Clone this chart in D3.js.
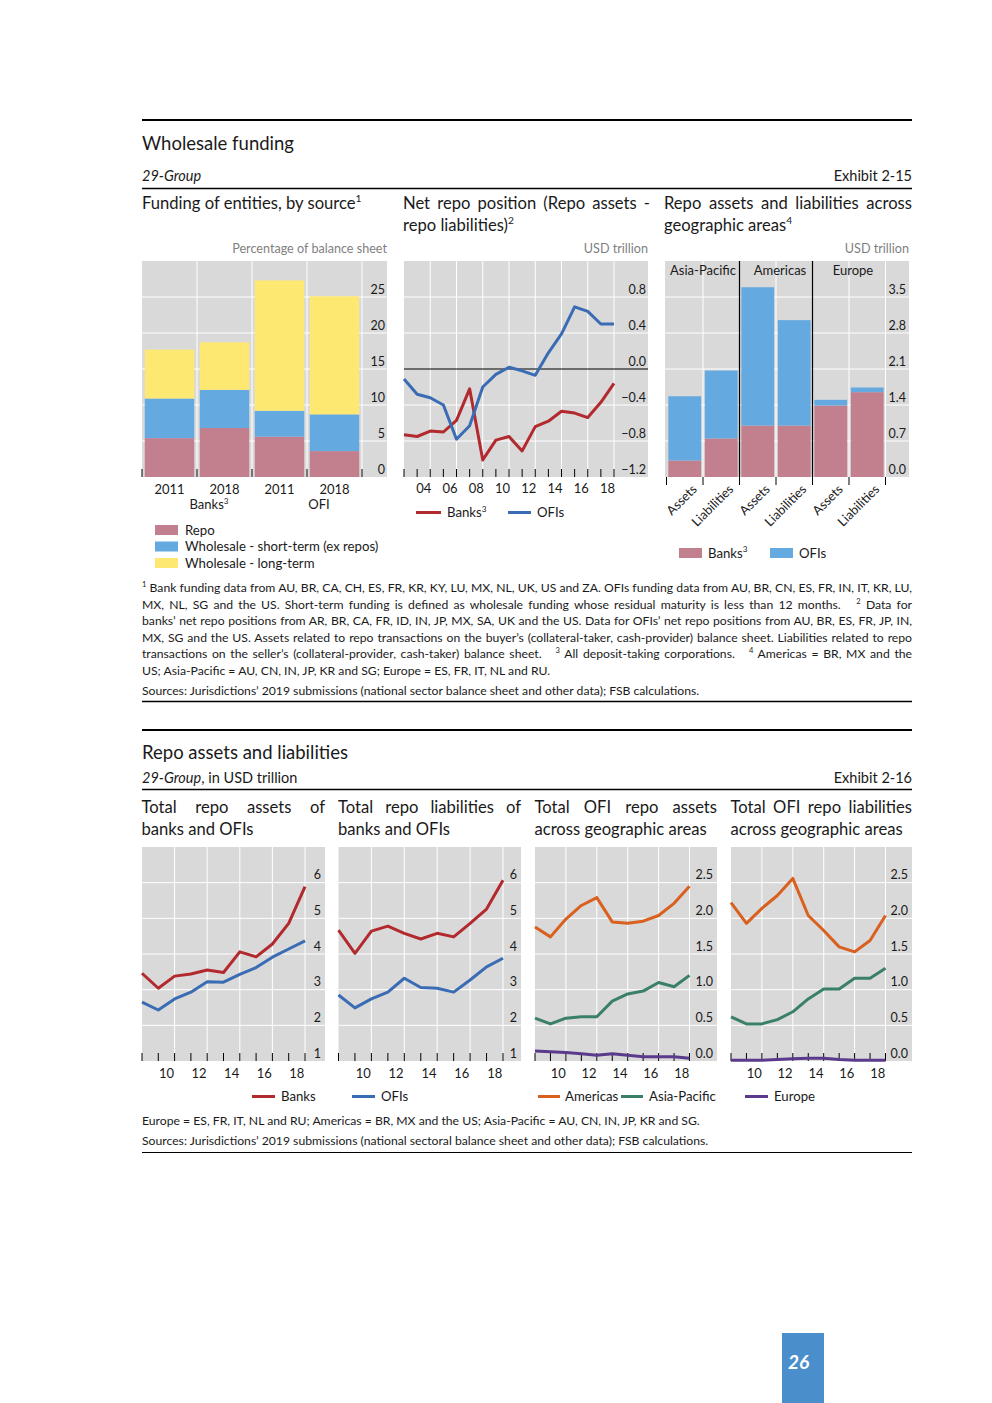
<!DOCTYPE html>
<html><head><meta charset="utf-8">
<script src="https://cdn.jsdelivr.net/npm/d3@7"></script>
<style>body{margin:0;background:#fff}svg{display:block}</style>
</head><body>
<script>
// ---------------- DATA ----------------
const fundingCategories = ["2011", "2018", "2011", "2018"];
const fundingGroups = ["Banks", "OFI"];
const fundingSeries = ["Repo", "Wholesale - short-term (ex repos)", "Wholesale - long-term"];
const fundingRepo = [5.4, 6.8, 5.6, 3.6];
const fundingShortTerm = [5.5, 5.3, 3.6, 5.1];
const fundingLongTerm = [6.8, 6.6, 18.1, 16.4];
const fundingTicks = [0, 5, 10, 15, 20, 25];

const netRepoYears = [2002, 2003, 2004, 2005, 2006, 2007, 2008, 2009, 2010, 2011, 2012, 2013, 2014, 2015, 2016, 2017, 2018];
const netRepoBanks = [-0.73, -0.75, -0.69, -0.70, -0.57, -0.22, -1.01, -0.79, -0.75, -0.91, -0.64, -0.58, -0.47, -0.49, -0.54, -0.37, -0.16];
const netRepoOFIs = [-0.11, -0.28, -0.32, -0.40, -0.78, -0.63, -0.20, -0.06, 0.02, -0.02, -0.07, 0.18, 0.39, 0.69, 0.64, 0.50, 0.50];
const netRepoTicks = [-1.2, -0.8, -0.4, 0, 0.4, 0.8];
const netRepoYearLabels = ["04", "06", "08", "10", "12", "14", "16", "18"];

const geoCategories = ["Assets", "Liabilities", "Assets", "Liabilities", "Assets", "Liabilities"];
const geoRegions = ["Asia-Pacific", "Americas", "Europe"];
const geoBanks = [0.32, 0.75, 1.00, 1.00, 1.39, 1.65];
const geoOFIs = [1.25, 1.32, 2.69, 2.05, 0.11, 0.09];
const geoTicks = [0, 0.7, 1.4, 2.1, 2.8, 3.5];

const repoYears = [2008, 2009, 2010, 2011, 2012, 2013, 2014, 2015, 2016, 2017, 2018];
const banksRepoAssets = [3.46, 3.04, 3.38, 3.44, 3.55, 3.48, 4.06, 3.92, 4.28, 4.86, 5.89];
const ofisRepoAssets = [2.65, 2.43, 2.74, 2.93, 3.22, 3.21, 3.43, 3.62, 3.91, 4.14, 4.37];
const banksRepoLiabilities = [4.67, 4.02, 4.64, 4.78, 4.58, 4.42, 4.58, 4.48, 4.86, 5.26, 6.07];
const ofisRepoLiabilities = [2.85, 2.49, 2.74, 2.93, 3.32, 3.06, 3.04, 2.93, 3.27, 3.64, 3.88];
const americasOfiAssets = [1.88, 1.74, 1.99, 2.18, 2.29, 1.95, 1.93, 1.96, 2.04, 2.21, 2.45];
const asiaOfiAssets = [0.60, 0.52, 0.60, 0.62, 0.62, 0.84, 0.94, 0.98, 1.10, 1.04, 1.20];
const europeOfiAssets = [0.14, 0.13, 0.12, 0.10, 0.08, 0.10, 0.08, 0.06, 0.06, 0.06, 0.04];
const americasOfiLiabilities = [2.22, 1.93, 2.14, 2.32, 2.56, 2.04, 1.83, 1.60, 1.53, 1.69, 2.04];
const asiaOfiLiabilities = [0.62, 0.52, 0.52, 0.58, 0.69, 0.87, 1.01, 1.01, 1.16, 1.16, 1.30];
const europeOfiLiabilities = [0.01, 0.01, 0.01, 0.02, 0.03, 0.04, 0.04, 0.02, 0.01, 0.01, 0.01];
const repoYearLabels = ["10", "12", "14", "16", "18"];
const repoTicksTotal = [1, 2, 3, 4, 5, 6];
const repoTicksGeo = [0, 0.5, 1, 1.5, 2, 2.5];

// ---------------- STYLE ----------------
const FONT = "Lato, 'Open Sans', 'DejaVu Sans', sans-serif";
const INK = "#1a1a1a";
const BG = "#d9d9d9";
const C = {
  repo: "#c27f8e", st: "#64a9e0", lt: "#fde972",
  red: "#b2292e", blue: "#3a6cb4", orange: "#d9601f", green: "#3a8069", purple: "#5c3a8b",
  pinkBar: "#c27f8e", blueBar: "#64a9e0"
};
const FS_TITLE = 16.6, FS_LEG = 13.2, FS_NOTE = 12.2, FS_TICK = 12.5;

const svg = d3.select("body").append("svg")
  .attr("width", 992).attr("height", 1403)
  .style("font-family", FONT);
svg.append("rect").attr("width", 992).attr("height", 1403).attr("fill", "#fff");

function txt(g, x, y, parts, o = {}) {
  const size = o.size || 12;
  const t = g.append("text").attr("x", x).attr("y", y)
    .attr("font-size", size).attr("fill", o.fill || INK)
    .attr("text-anchor", o.anchor || "start")
    .style("white-space", "pre");
  if (o.italic) t.attr("font-style", "italic");
  if (o.weight) t.attr("font-weight", o.weight);
  if (!Array.isArray(parts)) parts = [parts];
  let raised = false;
  parts.forEach(p => {
    const obj = typeof p === "string" ? { t: p } : p;
    const ts = t.append("tspan").text(obj.t);
    if (obj.it) ts.attr("font-style", "italic");
    if (obj.sup) {
      ts.attr("font-size", size * 0.62);
      if (!raised) { ts.attr("dy", -size * 0.4); raised = true; }
    } else if (raised) { ts.attr("dy", size * 0.4); raised = false; }
  });
  if (o.width) {
    // justify by widening the spaces between words
    const nat = t.node().getComputedTextLength();
    const spaces = (t.text().match(/ /g) || []).length;
    if (spaces > 0 && nat < o.width) t.style("word-spacing", ((o.width - nat) / spaces) + "px");
    else if (nat > o.width) t.attr("textLength", o.width).attr("lengthAdjust", "spacing");
  }
  return t;
}
function hline(g, x1, x2, y, w, col) {
  g.append("line").attr("x1", x1).attr("x2", x2).attr("y1", y).attr("y2", y)
    .attr("stroke", col || "#000").attr("stroke-width", w);
}
function styleAxisText(sel, size) {
  sel.selectAll("text").attr("font-family", FONT).attr("font-size", size || 12).attr("fill", INK);
}
function yLabels(g, scale, ticks, xPos, fmt) {
  const ax = d3.axisLeft(scale).tickValues(ticks).tickSize(0).tickPadding(0).tickFormat(fmt);
  const a = g.append("g").attr("transform", `translate(${xPos},0)`).call(ax);
  a.select(".domain").remove();
  a.selectAll("text").attr("y", -8);
  styleAxisText(a, FS_TICK);
}

// ---------------- SECTION 1 HEADER ----------------
const header1 = svg.append("g");
hline(header1, 142, 912, 120, 2);
txt(header1, 142, 150, "Wholesale funding", { size: 18.5 });
txt(header1, 142, 181, "29-Group", { size: 14.5, italic: true });
txt(header1, 912, 181, "Exhibit 2-15", { size: 14.5, anchor: "end" });
hline(header1, 142, 912, 188.5, 1.5);

// ---------------- PANEL 1: Funding ----------------
{
  const g = svg.append("g");
  const L = 142, R = 387, T = 261, B = 477;
  txt(g, 142, 209, ["Funding of entities, by source", { t: "1", sup: true }], { size: FS_TITLE });
  txt(g, 387, 253, "Percentage of balance sheet", { size: 12.6, anchor: "end", fill: "#7f7f7f" });
  g.append("rect").attr("x", L).attr("y", T).attr("width", R - L).attr("height", B - T).attr("fill", BG);
  const x = d3.scaleBand().domain(d3.range(fundingCategories.length)).range([142, 362]).paddingInner(0.1).paddingOuter(0.05);
  const y = d3.scaleLinear().domain([0, 30]).range([B, T]);
  g.selectAll(".hg").data(fundingTicks.filter(d => d > 0)).join("line")
    .attr("x1", L).attr("x2", R).attr("y1", d => y(d)).attr("y2", d => y(d)).attr("stroke", "#fff");
  const bounds = d3.range(0, fundingCategories.length + 1).map(i => x.range()[0] + i * x.step());
  g.selectAll(".vg").data(bounds.slice(1)).join("line")
    .attr("x1", d => d).attr("x2", d => d).attr("y1", T).attr("y2", B).attr("stroke", "#fff");
  const table = fundingCategories.map((c, i) => ({ i, repo: fundingRepo[i], st: fundingShortTerm[i], lt: fundingLongTerm[i] }));
  const stack = d3.stack().keys(["repo", "st", "lt"])(table);
  g.selectAll(".layer").data(stack).join("g").attr("fill", d => C[d.key])
    .selectAll("rect").data(d => d).join("rect")
    .attr("x", d => x(d.data.i)).attr("width", x.bandwidth())
    .attr("y", d => y(d[1])).attr("height", d => y(d[0]) - y(d[1]));
  g.selectAll(".tk").data(bounds).join("line")
    .attr("x1", d => d).attr("x2", d => d).attr("y1", B).attr("y2", B - 8).attr("stroke", "#000");
  yLabels(g, y, fundingTicks, 385, d3.format("d"));
  const xa = g.append("g").attr("transform", `translate(0,${B})`)
    .call(d3.axisBottom(x).tickSize(0).tickPadding(8).tickFormat(i => fundingCategories[i]));
  xa.select(".domain").remove();
  styleAxisText(xa, 13);
  fundingGroups.forEach((grp, k) => {
    const cx = (x(2 * k) + x(2 * k + 1) + x.bandwidth()) / 2 + 12;
    txt(g, cx, 509, grp === "Banks" ? [grp, { t: "3", sup: true }] : grp, { size: 13, anchor: "middle" });
  });
  const keys = ["repo", "st", "lt"];
  fundingSeries.forEach((s, i) => {
    const cy = 530 + i * 16.5;
    g.append("rect").attr("x", 155).attr("y", cy - 5).attr("width", 23).attr("height", 10).attr("fill", C[keys[i]]);
    txt(g, 185, cy + 4.5, s, { size: FS_LEG });
  });
}

// ---------------- PANEL 2: Net repo ----------------
{
  const g = svg.append("g");
  const L = 404, R = 648, T = 261, B = 477;
  txt(g, 403, 209, "Net repo position (Repo assets -", { size: FS_TITLE, width: 247 });
  txt(g, 403, 231, ["repo liabilities)", { t: "2", sup: true }], { size: FS_TITLE });
  txt(g, 648, 253, "USD trillion", { size: 12.6, anchor: "end", fill: "#7f7f7f" });
  g.append("rect").attr("x", L).attr("y", T).attr("width", R - L).attr("height", B - T).attr("fill", BG);
  const x = d3.scaleLinear().domain([2003, 2019]).range([404, 614]);
  const y = d3.scaleLinear().domain([-1.2, 1.2]).range([B, T]);
  g.selectAll(".hg").data(netRepoTicks.filter(d => d !== 0 && d > -1.2)).join("line")
    .attr("x1", L).attr("x2", R).attr("y1", d => y(d)).attr("y2", d => y(d)).attr("stroke", "#fff");
  const labYears = netRepoYearLabels.map(s => 2000 + +s);
  g.selectAll(".vg").data(labYears.map(v => v + 1)).join("line")
    .attr("x1", d => x(d)).attr("x2", d => x(d)).attr("y1", T).attr("y2", B).attr("stroke", "#fff");
  hline(g, L, R, y(0), 1.2, "#000");
  g.selectAll(".tk").data(d3.range(2003, 2020)).join("line")
    .attr("x1", d => x(d)).attr("x2", d => x(d)).attr("y1", B).attr("y2", B - 8).attr("stroke", "#000");
  const line = d3.line().x(d => x(d[0] + 1)).y(d => y(d[1]));
  [[netRepoBanks, C.red], [netRepoOFIs, C.blue]].forEach(([vals, col]) => {
    g.append("path").attr("d", line(netRepoYears.map((yr, i) => [yr, vals[i]])))
      .attr("fill", "none").attr("stroke", col).attr("stroke-width", 3).attr("stroke-linejoin", "round");
  });
  yLabels(g, y, netRepoTicks, 646, d3.format(".1f"));
  g.selectAll(".xl").data(netRepoYearLabels).join("text")
    .attr("x", d => x(2000 + +d + 0.5)).attr("y", 493).attr("text-anchor", "middle")
    .attr("font-size", 13).attr("fill", INK).text(d => d);
  hline(g, 416, 441, 512.5, 3, C.red);
  txt(g, 447, 517, ["Banks", { t: "3", sup: true }], { size: FS_LEG });
  hline(g, 508, 531, 512.5, 3, C.blue);
  txt(g, 537, 517, "OFIs", { size: FS_LEG });
}

// ---------------- PANEL 3: Geographic bars ----------------
{
  const g = svg.append("g");
  const L = 665, R = 909, T = 261, B = 477;
  txt(g, 664, 209, "Repo assets and liabilities across", { size: FS_TITLE, width: 248 });
  txt(g, 664, 231, ["geographic areas", { t: "4", sup: true }], { size: FS_TITLE });
  txt(g, 909, 253, "USD trillion", { size: 12.6, anchor: "end", fill: "#7f7f7f" });
  g.append("rect").attr("x", L).attr("y", T).attr("width", R - L).attr("height", B - T).attr("fill", BG);
  const n = geoCategories.length;
  const per = n / geoRegions.length;
  const x = d3.scaleBand().domain(d3.range(n)).range([666.5, 885.5]).paddingInner(0.1).paddingOuter(0.05);
  const y = d3.scaleLinear().domain([0, 4.2]).range([B, T]);
  g.selectAll(".hg").data(geoTicks.filter(d => d > 0)).join("line")
    .attr("x1", L).attr("x2", R).attr("y1", d => y(d)).attr("y2", d => y(d)).attr("stroke", "#fff");
  const bounds = d3.range(0, n + 1).map(i => x.range()[0] + i * x.step());
  g.selectAll(".vg").data(d3.range(1, n + 1).filter(i => i % per !== 0 || i === n)).join("line")
    .attr("x1", i => bounds[i]).attr("x2", i => bounds[i]).attr("y1", T).attr("y2", B).attr("stroke", "#fff");
  const table = geoCategories.map((c, i) => ({ i, banks: geoBanks[i], ofis: geoOFIs[i] }));
  const stack = d3.stack().keys(["banks", "ofis"])(table);
  const col = { banks: C.pinkBar, ofis: C.blueBar };
  g.selectAll(".layer").data(stack).join("g").attr("fill", d => col[d.key])
    .selectAll("rect").data(d => d).join("rect")
    .attr("x", d => x(d.data.i)).attr("width", x.bandwidth())
    .attr("y", d => y(d[1])).attr("height", d => y(d[0]) - y(d[1]));
  g.selectAll(".sep").data(d3.range(per, n, per)).join("line")
    .attr("x1", i => bounds[i]).attr("x2", i => bounds[i]).attr("y1", T).attr("y2", B)
    .attr("stroke", "#000").attr("stroke-width", 1.2);
  g.selectAll(".tk").data(bounds).join("line")
    .attr("x1", d => d).attr("x2", d => d).attr("y1", B).attr("y2", B + 8).attr("stroke", "#000");
  yLabels(g, y, geoTicks, 906, d3.format(".1f"));
  geoRegions.forEach((r, k) => {
    const cx = (bounds[k * per] + bounds[(k + 1) * per]) / 2 + (k === 0 ? 0 : 4);
    txt(g, cx, 275, r, { size: 13, anchor: "middle" });
  });
  geoCategories.forEach((c, i) => {
    const ax = x(i) + x.bandwidth() / 2 + 13, ay = 490;
    g.append("text").attr("transform", `translate(${ax},${ay}) rotate(-45)`)
      .attr("text-anchor", "end").attr("font-size", 12.8).attr("fill", INK).text(c);
  });
  g.append("rect").attr("x", 679).attr("y", 548).attr("width", 23).attr("height", 10).attr("fill", C.pinkBar);
  txt(g, 708, 557.5, ["Banks", { t: "3", sup: true }], { size: FS_LEG });
  g.append("rect").attr("x", 770).attr("y", 548).attr("width", 23).attr("height", 10).attr("fill", C.blueBar);
  txt(g, 799, 557.5, "OFIs", { size: FS_LEG });
}

// ---------------- FOOTNOTES SECTION 1 ----------------
{
  const g = svg.append("g");
  const W = 770;
  const lines = [
    [[{ t: "1", sup: true }, " Bank funding data from AU, BR, CA, CH, ES, FR, KR, KY, LU, MX, NL, UK, US and ZA. OFIs funding data from AU, BR, CN, ES, FR, IN, IT, KR, LU,"], true],
    [["MX, NL, SG and the US. Short-term funding is defined as wholesale funding whose residual maturity is less than 12 months.   ", { t: "2", sup: true }, " Data for"], true],
    [["banks’ net repo positions from AR, BR, CA, FR, ID, IN, JP, MX, SA, UK and the US. Data for OFIs’ net repo positions from AU, BR, ES, FR, JP, IN,"], true],
    [["MX, SG and the US. Assets related to repo transactions on the buyer’s (collateral-taker, cash-provider) balance sheet. Liabilities related to repo"], true],
    [["transactions on the seller’s (collateral-provider, cash-taker) balance sheet.   ", { t: "3", sup: true }, " All deposit-taking corporations.   ", { t: "4", sup: true }, " Americas = BR, MX and the"], true],
    [["US; Asia-Pacific = AU, CN, IN, JP, KR and SG; Europe = ES, FR, IT, NL and RU."], false]
  ];
  lines.forEach(([parts, just], i) => {
    txt(g, 142, 592 + i * 16.5, parts, { size: FS_NOTE, width: just ? W : null });
  });
  txt(g, 142, 695, "Sources: Jurisdictions’ 2019 submissions (national sector balance sheet and other data); FSB calculations.", { size: FS_NOTE });
  hline(g, 142, 912, 701.5, 1.5);
}

// ---------------- SECTION 2 HEADER ----------------
{
  const g = svg.append("g");
  hline(g, 142, 912, 730, 2);
  txt(g, 142, 759, "Repo assets and liabilities", { size: 18.5 });
  txt(g, 142, 783, [{ t: "29-Group", it: true }, ", in USD trillion"], { size: 14.5 });
  txt(g, 912, 783, "Exhibit 2-16", { size: 14.5, anchor: "end" });
  hline(g, 142, 912, 789.5, 1.5);
}

// ---------------- BOTTOM LINE PANELS ----------------
function linePanel(cfg) {
  const g = svg.append("g");
  const T = 847, B = 1061;
  txt(g, cfg.L - 0.5, 813, cfg.title1, { size: FS_TITLE, width: cfg.R - cfg.L + 0.5 });
  txt(g, cfg.L - 0.5, 835, cfg.title2, { size: FS_TITLE });
  g.append("rect").attr("x", cfg.L).attr("y", T).attr("width", cfg.R - cfg.L).attr("height", B - T).attr("fill", BG);
  const x = d3.scaleLinear().domain([2009, 2019]).range([cfg.L, cfg.px1]);
  const y = d3.scaleLinear().domain(cfg.yDomain).range([B, T]);
  g.selectAll(".hg").data(cfg.ticks.filter(d => d > cfg.yDomain[0])).join("line")
    .attr("x1", cfg.L).attr("x2", cfg.R).attr("y1", d => y(d)).attr("y2", d => y(d)).attr("stroke", "#fff");
  g.selectAll(".vg").data(repoYearLabels.map(s => 2000 + +s + 1)).join("line")
    .attr("x1", d => x(d)).attr("x2", d => x(d)).attr("y1", T).attr("y2", B).attr("stroke", "#fff");
  g.selectAll(".tk").data(d3.range(2009, 2020)).join("line")
    .attr("x1", d => x(d)).attr("x2", d => x(d)).attr("y1", B).attr("y2", B - 8).attr("stroke", "#000");
  const line = d3.line().x(d => x(d[0] + 1)).y(d => y(d[1]));
  cfg.series.forEach(([vals, col]) => {
    g.append("path").attr("d", line(repoYears.map((yr, i) => [yr, vals[i]])))
      .attr("fill", "none").attr("stroke", col).attr("stroke-width", 3).attr("stroke-linejoin", "round");
  });
  yLabels(g, y, cfg.ticks, cfg.R - 4, cfg.fmt);
  g.selectAll(".xl").data(repoYearLabels).join("text")
    .attr("x", d => x(2000 + +d + 0.5)).attr("y", 1078).attr("text-anchor", "middle")
    .attr("font-size", 13).attr("fill", INK).text(d => d);
  (cfg.legend || []).forEach(lg => {
    hline(g, lg.x1, lg.x2, 1096.5, 3, lg.color);
    txt(g, lg.tx, 1101, lg.label, { size: FS_LEG });
  });
}

linePanel({
  L: 142, R: 325, px1: 305, yDomain: [1, 7], ticks: repoTicksTotal, fmt: d3.format("d"),
  title1: "Total repo assets of", title2: "banks and OFIs",
  series: [[banksRepoAssets, C.red], [ofisRepoAssets, C.blue]],
  legend: [{ x1: 252, x2: 275, tx: 281, label: "Banks", color: C.red }]
});
linePanel({
  L: 338.5, R: 521, px1: 503, yDomain: [1, 7], ticks: repoTicksTotal, fmt: d3.format("d"),
  title1: "Total repo liabilities of", title2: "banks and OFIs",
  series: [[banksRepoLiabilities, C.red], [ofisRepoLiabilities, C.blue]],
  legend: [{ x1: 352, x2: 375, tx: 381, label: "OFIs", color: C.blue }]
});
linePanel({
  L: 535, R: 717, px1: 689.5, yDomain: [0, 3], ticks: repoTicksGeo, fmt: d3.format(".1f"),
  title1: "Total OFI repo assets", title2: "across geographic areas",
  series: [[americasOfiAssets, C.orange], [asiaOfiAssets, C.green], [europeOfiAssets, C.purple]],
  legend: [
    { x1: 538, x2: 560, tx: 565, label: "Americas", color: C.orange },
    { x1: 621, x2: 643, tx: 649, label: "Asia-Pacific", color: C.green }
  ]
});
linePanel({
  L: 731, R: 912, px1: 885.5, yDomain: [0, 3], ticks: repoTicksGeo, fmt: d3.format(".1f"),
  title1: "Total OFI repo liabilities", title2: "across geographic areas",
  series: [[americasOfiLiabilities, C.orange], [asiaOfiLiabilities, C.green], [europeOfiLiabilities, C.purple]],
  legend: [{ x1: 745, x2: 768, tx: 774, label: "Europe", color: C.purple }]
});

// ---------------- FOOTNOTES SECTION 2 ----------------
{
  const g = svg.append("g");
  txt(g, 142, 1125, "Europe = ES, FR, IT, NL and RU; Americas = BR, MX and the US; Asia-Pacific = AU, CN, IN, JP, KR and SG.", { size: FS_NOTE });
  txt(g, 142, 1145, "Sources: Jurisdictions’ 2019 submissions (national sectoral balance sheet and other data); FSB calculations.", { size: FS_NOTE });
  hline(g, 142, 912, 1152.5, 1);
}

// ---------------- PAGE NUMBER ----------------
{
  const g = svg.append("g");
  g.append("rect").attr("x", 782).attr("y", 1333).attr("width", 42).attr("height", 70).attr("fill", "#4a8fcb");
  txt(g, 798.5, 1369, "26", { size: 19, anchor: "middle", fill: "#fff", weight: "bold", italic: true });
}
</script>
</body></html>
